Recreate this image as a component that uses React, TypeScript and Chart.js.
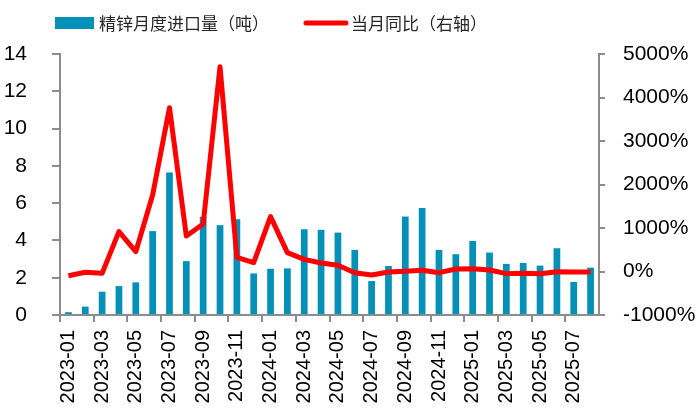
import React, { useEffect, useRef } from "react";
import { Chart, registerables } from "chart.js";

Chart.register(...registerables);

const categories = [
  "2023-01", "2023-02", "2023-03", "2023-04", "2023-05", "2023-06", "2023-07", "2023-08",
  "2023-09", "2023-10", "2023-11", "2023-12", "2024-01", "2024-02", "2024-03", "2024-04",
  "2024-05", "2024-06", "2024-07", "2024-08", "2024-09", "2024-10", "2024-11", "2024-12",
  "2025-01", "2025-02", "2025-03", "2025-04", "2025-05", "2025-06", "2025-07", "2025-08",
];

const zincImports = [
  0.15, 0.45, 1.25, 1.55, 1.75, 4.5, 7.64, 2.89, 5.27, 4.82, 5.14, 2.23, 2.48, 2.5, 4.6, 4.57,
  4.42, 3.49, 1.82, 2.63, 5.28, 5.74, 3.49, 3.26, 3.97, 3.35, 2.74, 2.79, 2.65, 3.58, 1.77, 2.54,
];

const yoyPct = [
  -96, -19, -42, 916, 456, 1759, 3766, 816, 1092, 4709, 326, 203, 1261, 433, 280, 195,
  145, -27, -80, -11, 4, 27, -27, 57, 65, 34, -50, -42, -50, -4, -11, -11,
];

const leftTicks = { min: 0, max: 14, step: 2 };
const rightTicks = { min: -1000, max: 5000, step: 1000 };

const seriesNames = ["精锌月度进口量（吨）", "当月同比（右轴）"];

const BAR_COLOR = "#0591b7";
const LINE_COLOR = "#ff0000";
const AXIS_COLOR = "#8c8c8c";
const TICK_FONT = { family: "'Liberation Sans', Arial, sans-serif", size: 21 };

const customLegend = {
  id: "customLegend",
  afterDraw(chart: any) {
    const ctx = chart.ctx;
    ctx.save();
    ctx.font = "17px 'Noto Sans CJK SC', sans-serif";
    ctx.textBaseline = "middle";
    const cy = 23;
    let x = 55;
    ctx.fillStyle = BAR_COLOR;
    ctx.fillRect(x, cy - 6, 39, 12);
    ctx.fillStyle = "#262626";
    ctx.fillText(seriesNames[0], x + 44, cy + 1);
    x = x + 44 + ctx.measureText(seriesNames[0]).width + 35;
    ctx.strokeStyle = LINE_COLOR;
    ctx.lineWidth = 5;
    ctx.lineCap = "round";
    ctx.beginPath();
    ctx.moveTo(x + 2, cy);
    ctx.lineTo(x + 42, cy);
    ctx.stroke();
    ctx.fillText(seriesNames[1], x + 47, cy + 1);
    ctx.restore();
  },
};

export default function App() {
  const canvasRef = useRef<HTMLCanvasElement | null>(null);

  useEffect(() => {
    document.body.style.margin = "0";
    const canvas = canvasRef.current;
    if (!canvas) return;
    const chart = new Chart(canvas, {
      type: "bar",
      data: {
        labels: categories,
        datasets: [
          {
            type: "line",
            label: seriesNames[1],
            data: yoyPct,
            yAxisID: "y1",
            borderColor: LINE_COLOR,
            backgroundColor: LINE_COLOR,
            borderWidth: 5,
            pointRadius: 0,
            tension: 0,
            borderJoinStyle: "round",
            order: 0,
          } as any,
          {
            type: "bar",
            label: seriesNames[0],
            data: zincImports,
            yAxisID: "y",
            backgroundColor: BAR_COLOR,
            categoryPercentage: 1,
            barPercentage: 0.4,
            order: 1,
          },
        ],
      },
      options: {
        responsive: true,
        maintainAspectRatio: false,
        animation: false,
        layout: { padding: { top: 54, left: 0, right: 0, bottom: 0 } },
        plugins: {
          legend: { display: false },
          tooltip: { enabled: false },
        },
        scales: {
          x: {
            offset: true,
            grid: {
              offset: true,
              drawOnChartArea: false,
              drawTicks: true,
              tickLength: 7,
              lineWidth: 2,
              color: (c: any) => (c.index % 2 === 0 ? AXIS_COLOR : "rgba(0,0,0,0)"),
            },
            border: { display: true, color: AXIS_COLOR, width: 2 },
            ticks: {
              autoSkip: false,
              maxRotation: 90,
              minRotation: 90,
              padding: 8,
              color: "#000",
              font: { family: TICK_FONT.family, size: 20 },
              callback: (_v: any, i: number) => (i % 2 === 0 ? categories[i] : ""),
            },
            afterFit: (s: any) => {
              s.height = 99;
            },
          },
          y: {
            position: "left",
            min: leftTicks.min,
            max: leftTicks.max,
            grid: {
              drawOnChartArea: false,
              drawTicks: true,
              tickLength: 8,
              lineWidth: 2,
              color: AXIS_COLOR,
            },
            border: { display: true, color: AXIS_COLOR, width: 2 },
            ticks: {
              stepSize: leftTicks.step,
              padding: 25,
              color: "#000",
              font: TICK_FONT,
            },
            afterFit: (s: any) => {
              s.width = 60;
            },
          },
          y1: {
            position: "right",
            min: rightTicks.min,
            max: rightTicks.max,
            grid: {
              drawOnChartArea: false,
              drawTicks: true,
              tickLength: 6,
              lineWidth: 2,
              color: AXIS_COLOR,
            },
            border: { display: true, color: AXIS_COLOR, width: 2 },
            ticks: {
              stepSize: rightTicks.step,
              padding: 18,
              color: "#000",
              font: TICK_FONT,
              callback: (v: any) => `${v}%`,
            },
            afterFit: (s: any) => {
              s.width = 101;
            },
          },
        },
      },
      plugins: [customLegend],
    });
    return () => chart.destroy();
  }, []);

  return (
    <div style={{ width: 700, height: 414, position: "relative" }}>
      <canvas ref={canvasRef} />
    </div>
  );
}
